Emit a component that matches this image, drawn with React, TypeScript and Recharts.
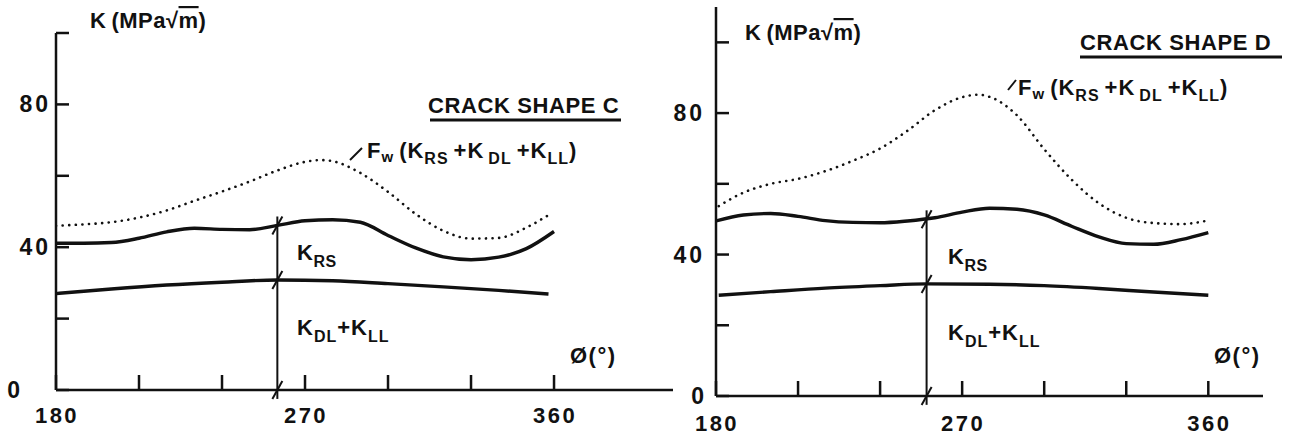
import React from 'react';
import { LineChart, Line, XAxis, YAxis, ReferenceLine, ReferenceDot } from 'recharts';

// ---------- Crack shape C (left panel) ----------
const cPhiFw = [180, 190, 200, 210, 220, 230, 240, 250, 260, 270, 276, 280, 290, 300, 310, 320, 330, 340, 350, 358];
const cFw = [46, 46.4, 47, 48.3, 50.3, 53, 55.6, 58.4, 61.5, 63.9, 64.4, 64.1, 60.8, 55.5, 49.3, 44.6, 42.4, 42.6, 45.5, 49];
const cPhiKrs = [180, 190, 200, 210, 220, 230, 240, 250, 260, 270, 280, 290, 300, 310, 320, 330, 340, 350, 360];
const cKrs = [41.1, 41.1, 41.3, 42.5, 44.3, 45.3, 45, 44.9, 46.1, 47.4, 47.7, 47, 43.3, 39.8, 37.3, 36.5, 37.2, 39.6, 44.4];
const cPhiKdl = [180, 200, 220, 240, 260, 280, 300, 320, 340, 358];
const cKdl = [27, 28.3, 29.4, 30.2, 30.8, 30.6, 29.8, 28.9, 27.9, 26.9];
const cCutPhi = 260;
const cCutMarks = [0, 30.8, 46.1];

// ---------- Crack shape D (right panel) ----------
const dPhiFw = [181, 190, 200, 210, 220, 230, 240, 250, 260, 270, 276, 280, 290, 300, 310, 320, 330, 340, 350, 359];
const dFw = [53.7, 57.5, 60, 61.4, 63.6, 66.5, 70, 75, 80.8, 84.5, 85.2, 84.6, 79.4, 69.8, 61.2, 54.5, 50.4, 48.9, 48.6, 49.5];
const dPhiKrs = [180, 190, 200, 210, 220, 230, 240, 250, 260, 270, 280, 290, 300, 310, 320, 330, 340, 350, 360];
const dKrs = [49.5, 51.2, 51.6, 50.8, 49.6, 49.1, 49, 49.5, 50.4, 52, 53.1, 52.8, 51.2, 48, 45, 43.1, 42.9, 44.2, 46.2];
const dPhiKdl = [181, 200, 220, 240, 257, 280, 300, 320, 340, 360];
const dKdl = [28.5, 29.5, 30.5, 31.2, 31.7, 31.6, 31.2, 30.4, 29.4, 28.5];
const dCutPhi = 257;
const dCutMarks = [0, 31.7, 50];

// ---------- axes ----------
const xTicks = [180, 210, 240, 270, 300, 330, 360];
const xTickLabels = [180, 270, 360];
const yTicks = [0, 20, 40, 60, 80, 100];
const yTickLabels = [0, 40, 80];

const FONT = '"Liberation Sans", Arial, sans-serif';
const INK = '#111';

const toRows = (xs: number[], ys: number[]) => xs.map((x, i) => ({ phi: x, v: ys[i] }));

const makeXTick = (labelDy: number) => (props: any) => {
  const { x, y, payload } = props;
  const v = payload.value;
  return (
    <g>
      <line x1={x} y1={y} x2={x} y2={y - 15} stroke={INK} strokeWidth={2.5} />
      {xTickLabels.includes(v) && (
        <text x={x + 1} y={y + labelDy} textAnchor="middle" fontFamily={FONT} fontWeight="bold" fontSize={22} fill={INK} letterSpacing={2.5}>
          {v}
        </text>
      )}
    </g>
  );
};

const makeYTick = (gap: number, zeroGap: number) => (props: any) => {
  const { x, y, payload } = props;
  const v = payload.value;
  return (
    <g>
      <line x1={x} y1={y} x2={x + 13} y2={y} stroke={INK} strokeWidth={2.5} />
      {yTickLabels.includes(v) && (
        <text x={x - (v === 0 ? zeroGap : gap)} y={y + 8} textAnchor="end" fontFamily={FONT} fontWeight="bold" fontSize={23} fill={INK} letterSpacing={3}>
          {v}
        </text>
      )}
    </g>
  );
};

const Slash = (props: any) => {
  const { cx, cy } = props;
  return <line x1={cx - 5} y1={cy + 9} x2={cx + 5} y2={cy - 9} stroke={INK} strokeWidth={2} />;
};

type PanelProps = {
  left: number;
  width: number;
  margin: { top: number; right: number; bottom: number; left: number };
  xMax: number;
  yMax: number;
  fw: { phi: number; v: number }[];
  krs: { phi: number; v: number }[];
  kdl: { phi: number; v: number }[];
  cutPhi: number;
  cutMarks: number[];
  xLabelDy: number;
  yGap: number;
  zeroGap: number;
};

const Panel = (p: PanelProps) => (
  <div style={{ position: 'absolute', left: p.left, top: 0 }}>
    <LineChart width={p.width} height={439} margin={p.margin}>
      <XAxis
        dataKey="phi"
        type="number"
        domain={[180, p.xMax]}
        ticks={xTicks}
        interval={0}
        height={1}
        tickSize={0}
        tickMargin={0}
        tickLine={false}
        axisLine={{ stroke: INK, strokeWidth: 2.5 }}
        tick={makeXTick(p.xLabelDy)}
        allowDataOverflow
      />
      <YAxis
        type="number"
        domain={[0, p.yMax]}
        ticks={yTicks}
        interval={0}
        width={1}
        tickSize={0}
        tickMargin={0}
        tickLine={false}
        axisLine={{ stroke: INK, strokeWidth: 2.5 }}
        tick={makeYTick(p.yGap, p.zeroGap)}
        allowDataOverflow
      />
      <ReferenceLine
        segment={[{ x: p.cutPhi, y: -2.5 }, { x: p.cutPhi, y: p.cutMarks[2] + 2.5 }]}
        stroke={INK}
        strokeWidth={2}
        ifOverflow="visible"
      />
      <Line data={p.fw} dataKey="v" type="monotone" stroke={INK} strokeWidth={2.6} strokeDasharray="0.1 6.5" strokeLinecap="round" dot={false} isAnimationActive={false} />
      <Line data={p.krs} dataKey="v" type="monotone" stroke={INK} strokeWidth={3.4} dot={false} isAnimationActive={false} />
      <Line data={p.kdl} dataKey="v" type="monotone" stroke={INK} strokeWidth={3.4} dot={false} isAnimationActive={false} />
      {p.cutMarks.map((m, i) => (
        <ReferenceDot key={i} x={p.cutPhi} y={m} r={0} shape={Slash} ifOverflow="visible" />
      ))}
    </LineChart>
  </div>
);

const txt = { fontFamily: FONT, fontWeight: 'bold' as const, fill: INK };

const KLabel = ({ x, y }: { x: number; y: number }) => (
  <text x={x} y={y} fontSize={22} letterSpacing={0.5} {...txt}>
    K<tspan dx={5}>(MPa√</tspan>
    <tspan style={{ textDecoration: 'overline' }}>m</tspan>)
  </text>
);

const FwLabel = ({ x, y }: { x: number; y: number }) => (
  <text x={x} y={y} fontSize={22} letterSpacing={1} {...txt}>
    F<tspan fontSize={15} dy={4}>w</tspan>
    <tspan dy={-4} dx={5}>(K</tspan>
    <tspan fontSize={16} dy={6}>RS</tspan>
    <tspan dy={-6} dx={5}>+K</tspan>
    <tspan fontSize={16} dy={6} dx={4}>DL</tspan>
    <tspan dy={-6} dx={5}>+K</tspan>
    <tspan fontSize={16} dy={6}>LL</tspan>
    <tspan dy={-6}>)</tspan>
  </text>
);

const KrsLabel = ({ x, y }: { x: number; y: number }) => (
  <text x={x} y={y} fontSize={22} letterSpacing={0.5} {...txt}>
    K<tspan fontSize={16} dy={7}>RS</tspan>
  </text>
);

const KdlLabel = ({ x, y }: { x: number; y: number }) => (
  <text x={x} y={y} fontSize={22} letterSpacing={1} {...txt}>
    K<tspan fontSize={16} dy={7}>DL</tspan>
    <tspan dy={-7}>+K</tspan>
    <tspan fontSize={16} dy={7}>LL</tspan>
  </text>
);

export default function App() {
  return (
    <div style={{ position: 'absolute', left: 0, top: 0, width: 1298, height: 439, background: '#fff', overflow: 'hidden' }}>
      <Panel
        left={0}
        width={700}
        margin={{ top: 33, right: 27, bottom: 48, left: 55 }}
        xMax={403}
        yMax={100}
        fw={toRows(cPhiFw, cFw)}
        krs={toRows(cPhiKrs, cKrs)}
        kdl={toRows(cPhiKdl, cKdl)}
        cutPhi={cCutPhi}
        cutMarks={cCutMarks}
        xLabelDy={33}
        yGap={5}
        zeroGap={33}
      />
      <Panel
        left={650}
        width={648}
        margin={{ top: 7, right: 35, bottom: 42, left: 65 }}
        xMax={380}
        yMax={110}
        fw={toRows(dPhiFw, dFw)}
        krs={toRows(dPhiKrs, dKrs)}
        kdl={toRows(dPhiKdl, dKdl)}
        cutPhi={dCutPhi}
        cutMarks={dCutMarks}
        xLabelDy={35}
        yGap={11}
        zeroGap={9}
      />
      <svg width={1298} height={439} style={{ position: 'absolute', left: 0, top: 0, pointerEvents: 'none' }}>
        {/* left panel annotations */}
        <KLabel x={90} y={28} />
        <text x={428} y={113} fontSize={22} {...txt} letterSpacing={0.6}>CRACK  SHAPE  C</text>
        <line x1={430} y1={120} x2={621} y2={120} stroke={INK} strokeWidth={3} />
        <line x1={350} y1={160} x2={362} y2={148} stroke={INK} strokeWidth={2} />
        <FwLabel x={367} y={158} />
        <KrsLabel x={297} y={260} />
        <KdlLabel x={297} y={335} />
        <text x={570} y={363} fontSize={22} letterSpacing={1.5} {...txt}>Ø(°)</text>
        {/* right panel annotations */}
        <KLabel x={745} y={40} />
        <text x={1080} y={50} fontSize={22} {...txt} letterSpacing={0.6}>CRACK  SHAPE  D</text>
        <line x1={1080} y1={57} x2={1282} y2={57} stroke={INK} strokeWidth={3} />
        <line x1={1008} y1={90} x2={1016} y2={80} stroke={INK} strokeWidth={2} />
        <FwLabel x={1018} y={95} />
        <KrsLabel x={948} y={264} />
        <KdlLabel x={948} y={340} />
        <text x={1214} y={363} fontSize={22} letterSpacing={1.5} {...txt}>Ø(°)</text>
      </svg>
    </div>
  );
}
